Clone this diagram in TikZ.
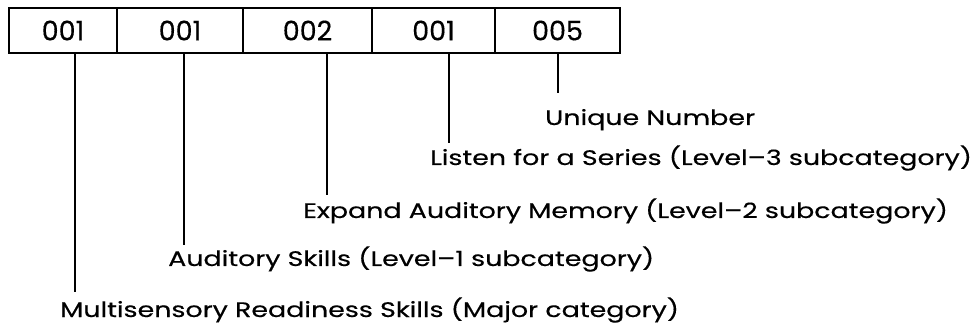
\documentclass[tikz,border=0pt]{standalone}
\usepackage{fontspec}
\setmainfont[FakeBold=0.4]{Poppins}
\newfontfamily\widefont[FakeStretch=1.28,FakeBold=0.4]{Poppins}
\begin{document}
\begin{tikzpicture}[x=1pt,y=-1pt,
  cell/.style={draw,line width=2.4pt,minimum height=45pt,inner sep=0pt,
    font=\fontsize{27}{27}\selectfont},
  desc/.style={anchor=base west,inner sep=0pt,font=\widefont\fontsize{21}{21}\selectfont},
  lead/.style={line width=2.4pt}]
\useasboundingbox (0,0) rectangle (976,328);
% code field boxes
\node[cell,minimum width=108pt] (c1) at (63,30.5) {001};
\node[cell,minimum width=126pt] (c2) at (180,30.5) {001};
\node[cell,minimum width=129pt] (c3) at (307.5,30.5) {002};
\node[cell,minimum width=123pt] (c4) at (433.5,30.5) {001};
\node[cell,minimum width=125pt] (c5) at (557.5,30.5) {005};
% descriptions
\node[desc] (d5) at (545,125) {Unique Number};
\node[desc] (d4) at (430,165) {Listen for a Series (Level–3 subcategory)};
\node[desc] (d3) at (303,218) {Expand Auditory Memory (Level–2 subcategory)};
\node[desc] (d2) at (168,266) {Auditory Skills (Level–1 subcategory)};
\node[desc] (d1) at (60,317) {Multisensory Readiness Skills (Major category)};
% leader line ends
\coordinate (e5) at (558,93);
\coordinate (e4) at (449,143);
\coordinate (e3) at (327,195);
\coordinate (e2) at (184,245);
\coordinate (e1) at (75,292);
\draw[lead] (c5.south -| e5) -- (e5);
\draw[lead] (c4.south -| e4) -- (e4);
\draw[lead] (c3.south -| e3) -- (e3);
\draw[lead] (c2.south -| e2) -- (e2);
\draw[lead] (c1.south -| e1) -- (e1);
\end{tikzpicture}
\end{document}
